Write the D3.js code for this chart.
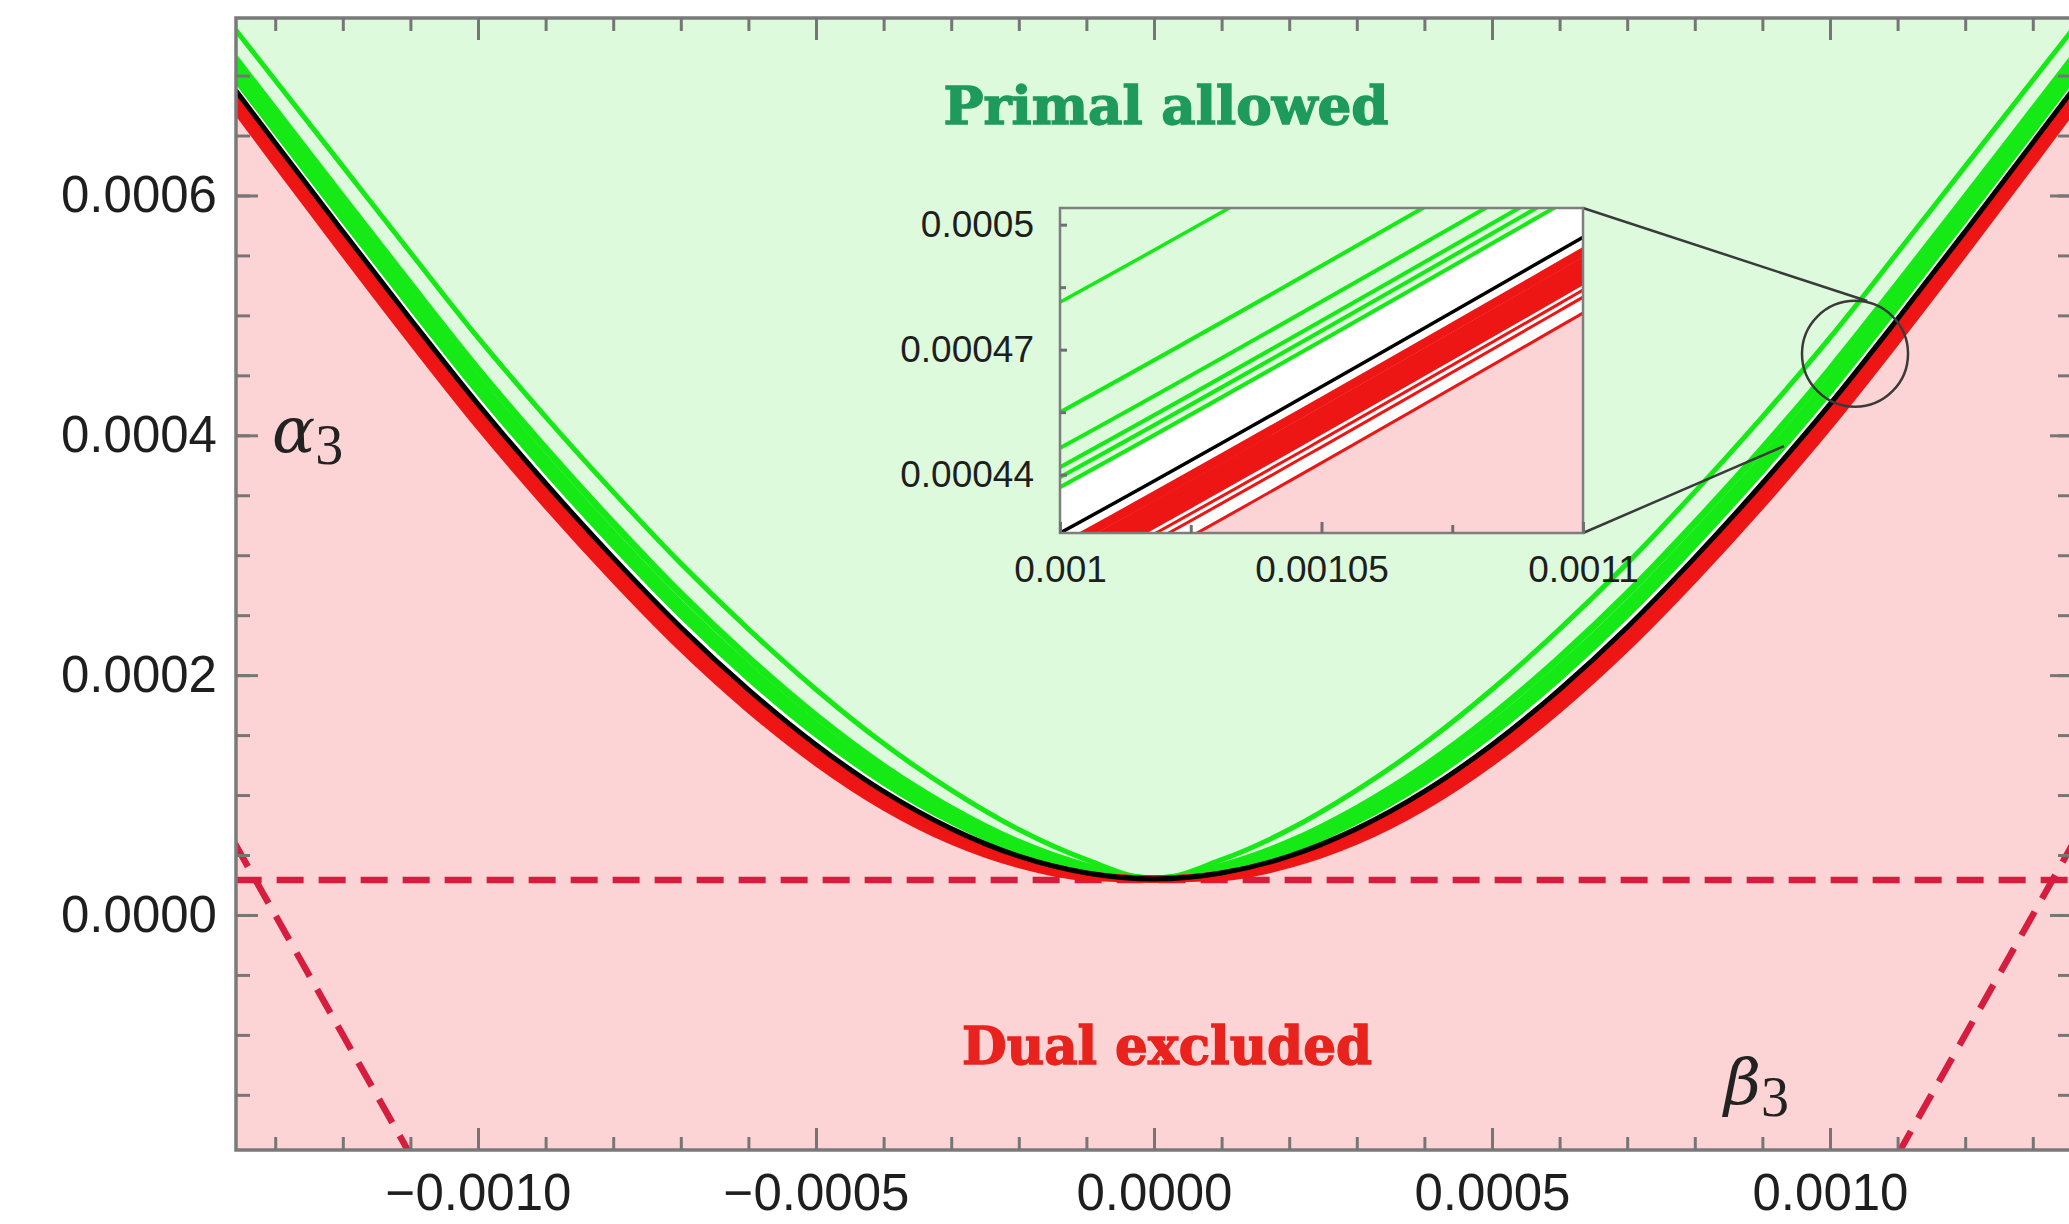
<!DOCTYPE html>
<html>
<head>
<meta charset="utf-8">
<script src="https://cdn.jsdelivr.net/npm/d3@7"></script>
<style>
  body { margin: 0; background: #fff; }
  svg { display: block; }
</style>
</head>
<body>
<div id="chart"></div>
<script>
// beta_3 sample points (right half, the plot is mirror symmetric in beta_3)
const betaGrid = [0, 0.0001, 0.0002, 0.0003, 0.0004, 0.0005, 0.0006, 0.0007, 0.0008, 0.0009, 0.0010, 0.0011, 0.0012, 0.0013, 0.00136];

// best bound (black)
const alphaBest = [3.00e-5, 3.50e-5, 4.90e-5, 7.20e-5, 1.030e-4, 1.420e-4, 1.880e-4, 2.400e-4, 2.980e-4, 3.600e-4, 4.260e-4, 4.970e-4, 5.700e-4, 6.440e-4, 6.887e-4];

// primal bounds (green), top to bottom
const primal1 = [3.00e-5, 4.61e-5, 7.12e-5, 1.041e-4, 1.429e-4, 1.880e-4, 2.384e-4, 2.932e-4, 3.528e-4, 4.154e-4, 4.814e-4, 5.524e-4, 6.243e-4, 6.961e-4, 7.391e-4];
const primal2 = [3.00e-5, 4.08e-5, 6.06e-5, 8.88e-5, 1.239e-4, 1.661e-4, 2.144e-4, 2.678e-4, 3.267e-4, 3.890e-4, 4.550e-4, 5.260e-4, 5.984e-4, 6.713e-4, 7.151e-4];
const primal3 = [3.00e-5, 3.91e-5, 5.72e-5, 8.38e-5, 1.177e-4, 1.589e-4, 2.066e-4, 2.596e-4, 3.182e-4, 3.804e-4, 4.464e-4, 5.174e-4, 5.900e-4, 6.632e-4, 7.073e-4];
const primal4 = [3.00e-5, 3.82e-5, 5.53e-5, 8.12e-5, 1.144e-4, 1.551e-4, 2.024e-4, 2.552e-4, 3.136e-4, 3.758e-4, 4.418e-4, 5.128e-4, 5.855e-4, 6.589e-4, 7.031e-4];
const primal5 = [3.00e-5, 3.77e-5, 5.44e-5, 7.98e-5, 1.126e-4, 1.531e-4, 2.002e-4, 2.529e-4, 3.113e-4, 3.734e-4, 4.394e-4, 5.104e-4, 5.831e-4, 6.566e-4, 7.009e-4];
const primal6 = [3.00e-5, 3.72e-5, 5.34e-5, 7.84e-5, 1.109e-4, 1.511e-4, 1.980e-4, 2.506e-4, 3.089e-4, 3.710e-4, 4.370e-4, 5.080e-4, 5.808e-4, 6.543e-4, 6.987e-4];

// dual bounds (red), top to bottom
const dual1 = [3.00e-5, 3.43e-5, 4.76e-5, 6.99e-5, 1.004e-4, 1.390e-4, 1.847e-4, 2.365e-4, 2.944e-4, 3.564e-4, 4.224e-4, 4.934e-4, 5.665e-4, 6.406e-4, 6.854e-4];
const dual2 = [3.00e-5, 3.38e-5, 4.66e-5, 6.85e-5, 9.87e-5, 1.370e-4, 1.825e-4, 2.342e-4, 2.921e-4, 3.540e-4, 4.200e-4, 4.910e-4, 5.641e-4, 6.384e-4, 6.832e-4];
const dual3 = [3.00e-5, 3.34e-5, 4.58e-5, 6.73e-5, 9.72e-5, 1.353e-4, 1.806e-4, 2.322e-4, 2.900e-4, 3.519e-4, 4.179e-4, 4.889e-4, 5.621e-4, 6.364e-4, 6.813e-4];
const dual4 = [3.00e-5, 3.29e-5, 4.49e-5, 6.60e-5, 9.56e-5, 1.335e-4, 1.786e-4, 2.301e-4, 2.878e-4, 3.497e-4, 4.157e-4, 4.867e-4, 5.599e-4, 6.343e-4, 6.793e-4];
const dual5 = [3.00e-5, 3.25e-5, 4.39e-5, 6.46e-5, 9.39e-5, 1.315e-4, 1.764e-4, 2.278e-4, 2.854e-4, 3.473e-4, 4.133e-4, 4.843e-4, 5.576e-4, 6.321e-4, 6.771e-4];
const dual6 = [3.00e-5, 3.21e-5, 4.32e-5, 6.36e-5, 9.26e-5, 1.300e-4, 1.749e-4, 2.262e-4, 2.837e-4, 3.456e-4, 4.116e-4, 4.826e-4, 5.559e-4, 6.305e-4, 6.756e-4];
const dual7 = [3.00e-5, 3.11e-5, 4.17e-5, 6.14e-5, 8.99e-5, 1.269e-4, 1.714e-4, 2.225e-4, 2.800e-4, 3.418e-4, 4.078e-4, 4.788e-4, 5.522e-4, 6.269e-4, 6.721e-4];

// dashed red constraint lines, [beta, alpha] end points
const dashFloor = [[-0.00136, 2.92e-5], [0.00136, 2.92e-5]];
const dashLeft = [[-0.00136, 6.0e-5], [-0.0011, -2.0e-4]];
const dashRight = [[0.0011, -2.0e-4], [0.00136, 6.0e-5]];

// zoom marker in the main plot and the ends of the two connector lines
const zoomCircle = [0.001037, 4.68e-4];
const connectTop = [0.001055, 5.12e-4];
const connectBottom = [0.000932, 3.91e-4];

// tick labels
const xMajor = [-0.001, -0.0005, 0, 0.0005, 0.001];
const yMajor = [0, 0.0002, 0.0004, 0.0006];
const insetXTicks = [0.001, 0.00105, 0.0011];
const insetYTicks = [0.00044, 0.00047, 0.0005];

const W = 2069, H = 1224;
const GREEN_FILL = "#ddfadc", PINK_FILL = "#fdd4d6";
const GREEN = "#16ea16", RED = "#ee1515";

const svg = d3.select("#chart").append("svg")
    .attr("width", W)
    .attr("height", H);

const x = d3.scaleLinear().domain([-0.001358, 0.001358]).range([236, 2072]);
const y = d3.scaleLinear().domain([-0.000196, 0.000748]).range([1150, 18]);

const xi = d3.scaleLinear().domain([0.001, 0.0011]).range([1060, 1583]);
const yi = d3.scaleLinear().domain([0.000426, 0.000504]).range([533, 208]);

// full curve from the half grid, mirrored to negative beta
function branch(alphas) {
    const right = betaGrid.map((b, i) => [b, alphas[i]]);
    const left = right.slice(1).map(d => [-d[0], d[1]]).reverse();
    return left.concat(right);
}

const primals = [primal1, primal2, primal3, primal4, primal5, primal6];
const duals = [dual1, dual2, dual3, dual4, dual5, dual6, dual7];

const defs = svg.append("defs");
defs.append("clipPath").attr("id", "clipMain").append("rect")
    .attr("x", x.range()[0]).attr("y", y.range()[1])
    .attr("width", x.range()[1] - x.range()[0])
    .attr("height", y.range()[0] - y.range()[1]);
defs.append("clipPath").attr("id", "clipInset").append("rect")
    .attr("x", xi.range()[0]).attr("y", yi.range()[1])
    .attr("width", xi.range()[1] - xi.range()[0])
    .attr("height", yi.range()[0] - yi.range()[1]);

// fills + bound curves, used for the main plot and the inset
function drawPanel(g, xs, ys, w) {
    const top = ys.range()[1], bottom = ys.range()[0];
    const line = d3.line().x(d => xs(d[0])).y(d => ys(d[1])).curve(d3.curveMonotoneX);
    const areaUp = d3.area().x(d => xs(d[0])).y0(d => ys(d[1])).y1(top - 10).curve(d3.curveMonotoneX);
    const areaDown = d3.area().x(d => xs(d[0])).y0(bottom + 10).y1(d => ys(d[1])).curve(d3.curveMonotoneX);

    g.append("rect")
        .attr("x", xs.range()[0]).attr("y", top)
        .attr("width", xs.range()[1] - xs.range()[0]).attr("height", bottom - top)
        .attr("fill", "#fff");
    g.append("path").datum(branch(primal6)).attr("d", areaUp).attr("fill", GREEN_FILL);
    g.append("path").datum(branch(dual7)).attr("d", areaDown).attr("fill", PINK_FILL);

    if (w.dashed) w.dashed(g);

    g.selectAll(".primal")
        .data(primals)
        .enter().append("path")
        .attr("class", "primal")
        .attr("d", d => line(branch(d)))
        .attr("fill", "none")
        .attr("stroke", GREEN)
        .attr("stroke-width", (d, i) => i === 0 ? w.g1 : w.green);

    g.selectAll(".dual")
        .data(duals)
        .enter().append("path")
        .attr("class", "dual")
        .attr("d", d => line(branch(d)))
        .attr("fill", "none")
        .attr("stroke", RED)
        .attr("stroke-width", (d, i) => i < 4 ? w.redBand : w.red);

    g.append("path")
        .datum(branch(alphaBest))
        .attr("d", line)
        .attr("fill", "none")
        .attr("stroke", "#000")
        .attr("stroke-width", w.black);
}

// main plot
const main = svg.append("g").attr("clip-path", "url(#clipMain)");
drawPanel(main, x, y, {
    g1: 5, green: 7, redBand: 7, red: 6.5, black: 5,
    dashed: g => {
        const dline = d3.line().x(d => x(d[0])).y(d => y(d[1]));
        [dashFloor, dashLeft, dashRight].forEach(pts => {
            g.append("path")
                .attr("d", dline(pts))
                .attr("fill", "none")
                .attr("stroke", "#d61d3d")
                .attr("stroke-width", 6.5)
                .attr("stroke-dasharray", "27,15");
        });
    }
});

// region labels
function regionLabel(txt, px, py, len, color) {
    svg.append("text")
        .text(txt)
        .attr("x", px).attr("y", py)
        .attr("text-anchor", "middle")
        .attr("font-family", "DejaVu Serif, serif")
        .attr("font-weight", "bold")
        .attr("font-size", 52)
        .attr("textLength", len)
        .attr("lengthAdjust", "spacingAndGlyphs")
        .attr("fill", color)
        .attr("stroke", color)
        .attr("stroke-width", 1.4);
}
regionLabel("Primal allowed", x(0) + 12, 124, 445, "#1e9a5c");
regionLabel("Dual excluded", x(0) + 13, 1064, 410, "#e8231d");

// axis symbols
function symbolLabel(sym, px, py) {
    const t = svg.append("text")
        .attr("x", px).attr("y", py)
        .attr("fill", "#222");
    t.append("tspan").text(sym)
        .attr("font-family", "DejaVu Serif, serif")
        .attr("font-style", "italic")
        .attr("font-size", 64);
    t.append("tspan").text("3")
        .attr("font-family", "Liberation Serif, serif")
        .attr("font-size", 56)
        .attr("dy", 12);
}
symbolLabel("α", 272, 452);
symbolLabel("β", 1724, 1104);

// zoom marker
svg.append("circle")
    .attr("cx", x(zoomCircle[0])).attr("cy", y(zoomCircle[1]))
    .attr("r", 53)
    .attr("fill", "none")
    .attr("stroke", "#3a3a3a")
    .attr("stroke-width", 2.5);

svg.append("line")
    .attr("x1", xi.range()[1]).attr("y1", yi.range()[1])
    .attr("x2", x(connectTop[0])).attr("y2", y(connectTop[1]))
    .attr("stroke", "#3a3a3a").attr("stroke-width", 2.5);
svg.append("line")
    .attr("x1", xi.range()[1]).attr("y1", yi.range()[0])
    .attr("x2", x(connectBottom[0])).attr("y2", y(connectBottom[1]))
    .attr("stroke", "#3a3a3a").attr("stroke-width", 2.5);

// inset
const insetG = svg.append("g").attr("clip-path", "url(#clipInset)");
drawPanel(insetG, xi, yi, {g1: 3.5, green: 4, redBand: 9, red: 3, black: 3.5});

svg.append("rect")
    .attr("x", xi.range()[0]).attr("y", yi.range()[1])
    .attr("width", xi.range()[1] - xi.range()[0])
    .attr("height", yi.range()[0] - yi.range()[1])
    .attr("fill", "none")
    .attr("stroke", "#7e7e7e")
    .attr("stroke-width", 2.5);

function styleAxis(g, size, color) {
    g.select(".domain").remove();
    g.attr("font-family", "Liberation Sans, Arial, sans-serif")
        .attr("font-size", size)
        .attr("color", color);
    g.selectAll(".tick line").attr("stroke-width", 3);
    g.selectAll(".tick text").attr("fill", "#1e1e1e");
}

const fmtInset = d3.format("~g");
svg.append("g")
    .attr("transform", `translate(${xi.range()[0]},0)`)
    .call(d3.axisLeft(yi).tickValues([0.000455, 0.000485]).tickSize(-6).tickFormat(""))
    .call(g => styleAxis(g, 37, "#6f6f6f"));
svg.append("g")
    .attr("transform", `translate(${xi.range()[0]},0)`)
    .call(d3.axisLeft(yi).tickValues(insetYTicks).tickSize(-7).tickPadding(26).tickFormat(fmtInset))
    .call(g => styleAxis(g, 37, "#6f6f6f"));
svg.append("g")
    .attr("transform", `translate(0,${yi.range()[0]})`)
    .call(d3.axisBottom(xi).tickValues([0.001025, 0.001075]).tickSize(-8).tickFormat(""))
    .call(g => styleAxis(g, 37, "#6f6f6f"));
svg.append("g")
    .attr("transform", `translate(0,${yi.range()[0]})`)
    .call(d3.axisBottom(xi).tickValues(insetXTicks).tickSize(-11).tickPadding(23).tickFormat(fmtInset))
    .call(g => styleAxis(g, 37, "#6f6f6f"));

// main frame and ticks
svg.append("rect")
    .attr("x", x.range()[0]).attr("y", y.range()[1])
    .attr("width", x.range()[1] - x.range()[0])
    .attr("height", y.range()[0] - y.range()[1])
    .attr("fill", "none")
    .attr("stroke", "#7a7a7a")
    .attr("stroke-width", 3.5);

const xMinor = d3.range(-13, 14).map(i => i / 10000);
const yMinor = d3.range(-3, 15).map(i => i * 5 / 100000);
const fmtMain = d3.format(".4f");
const frameColor = "#767676";

[["axisBottom", y.range()[0]], ["axisTop", y.range()[1]]].forEach(([fn, pos]) => {
    svg.append("g")
        .attr("transform", `translate(0,${pos})`)
        .call(d3[fn](x).tickValues(xMinor).tickSize(-13).tickFormat(""))
        .call(g => styleAxis(g, 51, frameColor));
    svg.append("g")
        .attr("transform", `translate(0,${pos})`)
        .call(d3[fn](x).tickValues(xMajor).tickSize(-22).tickPadding(24)
            .tickFormat(fn === "axisBottom" ? fmtMain : ""))
        .call(g => styleAxis(g, 51, frameColor));
});

[["axisLeft", x.range()[0]], ["axisRight", x.range()[1]]].forEach(([fn, pos]) => {
    svg.append("g")
        .attr("transform", `translate(${pos},0)`)
        .call(d3[fn](y).tickValues(yMinor).tickSize(-14).tickFormat(""))
        .call(g => styleAxis(g, 51, frameColor));
    svg.append("g")
        .attr("transform", `translate(${pos},0)`)
        .call(d3[fn](y).tickValues(yMajor).tickSize(-22).tickPadding(19)
            .tickFormat(fn === "axisLeft" ? fmtMain : ""))
        .call(g => styleAxis(g, 51, frameColor));
});
</script>
</body>
</html>
